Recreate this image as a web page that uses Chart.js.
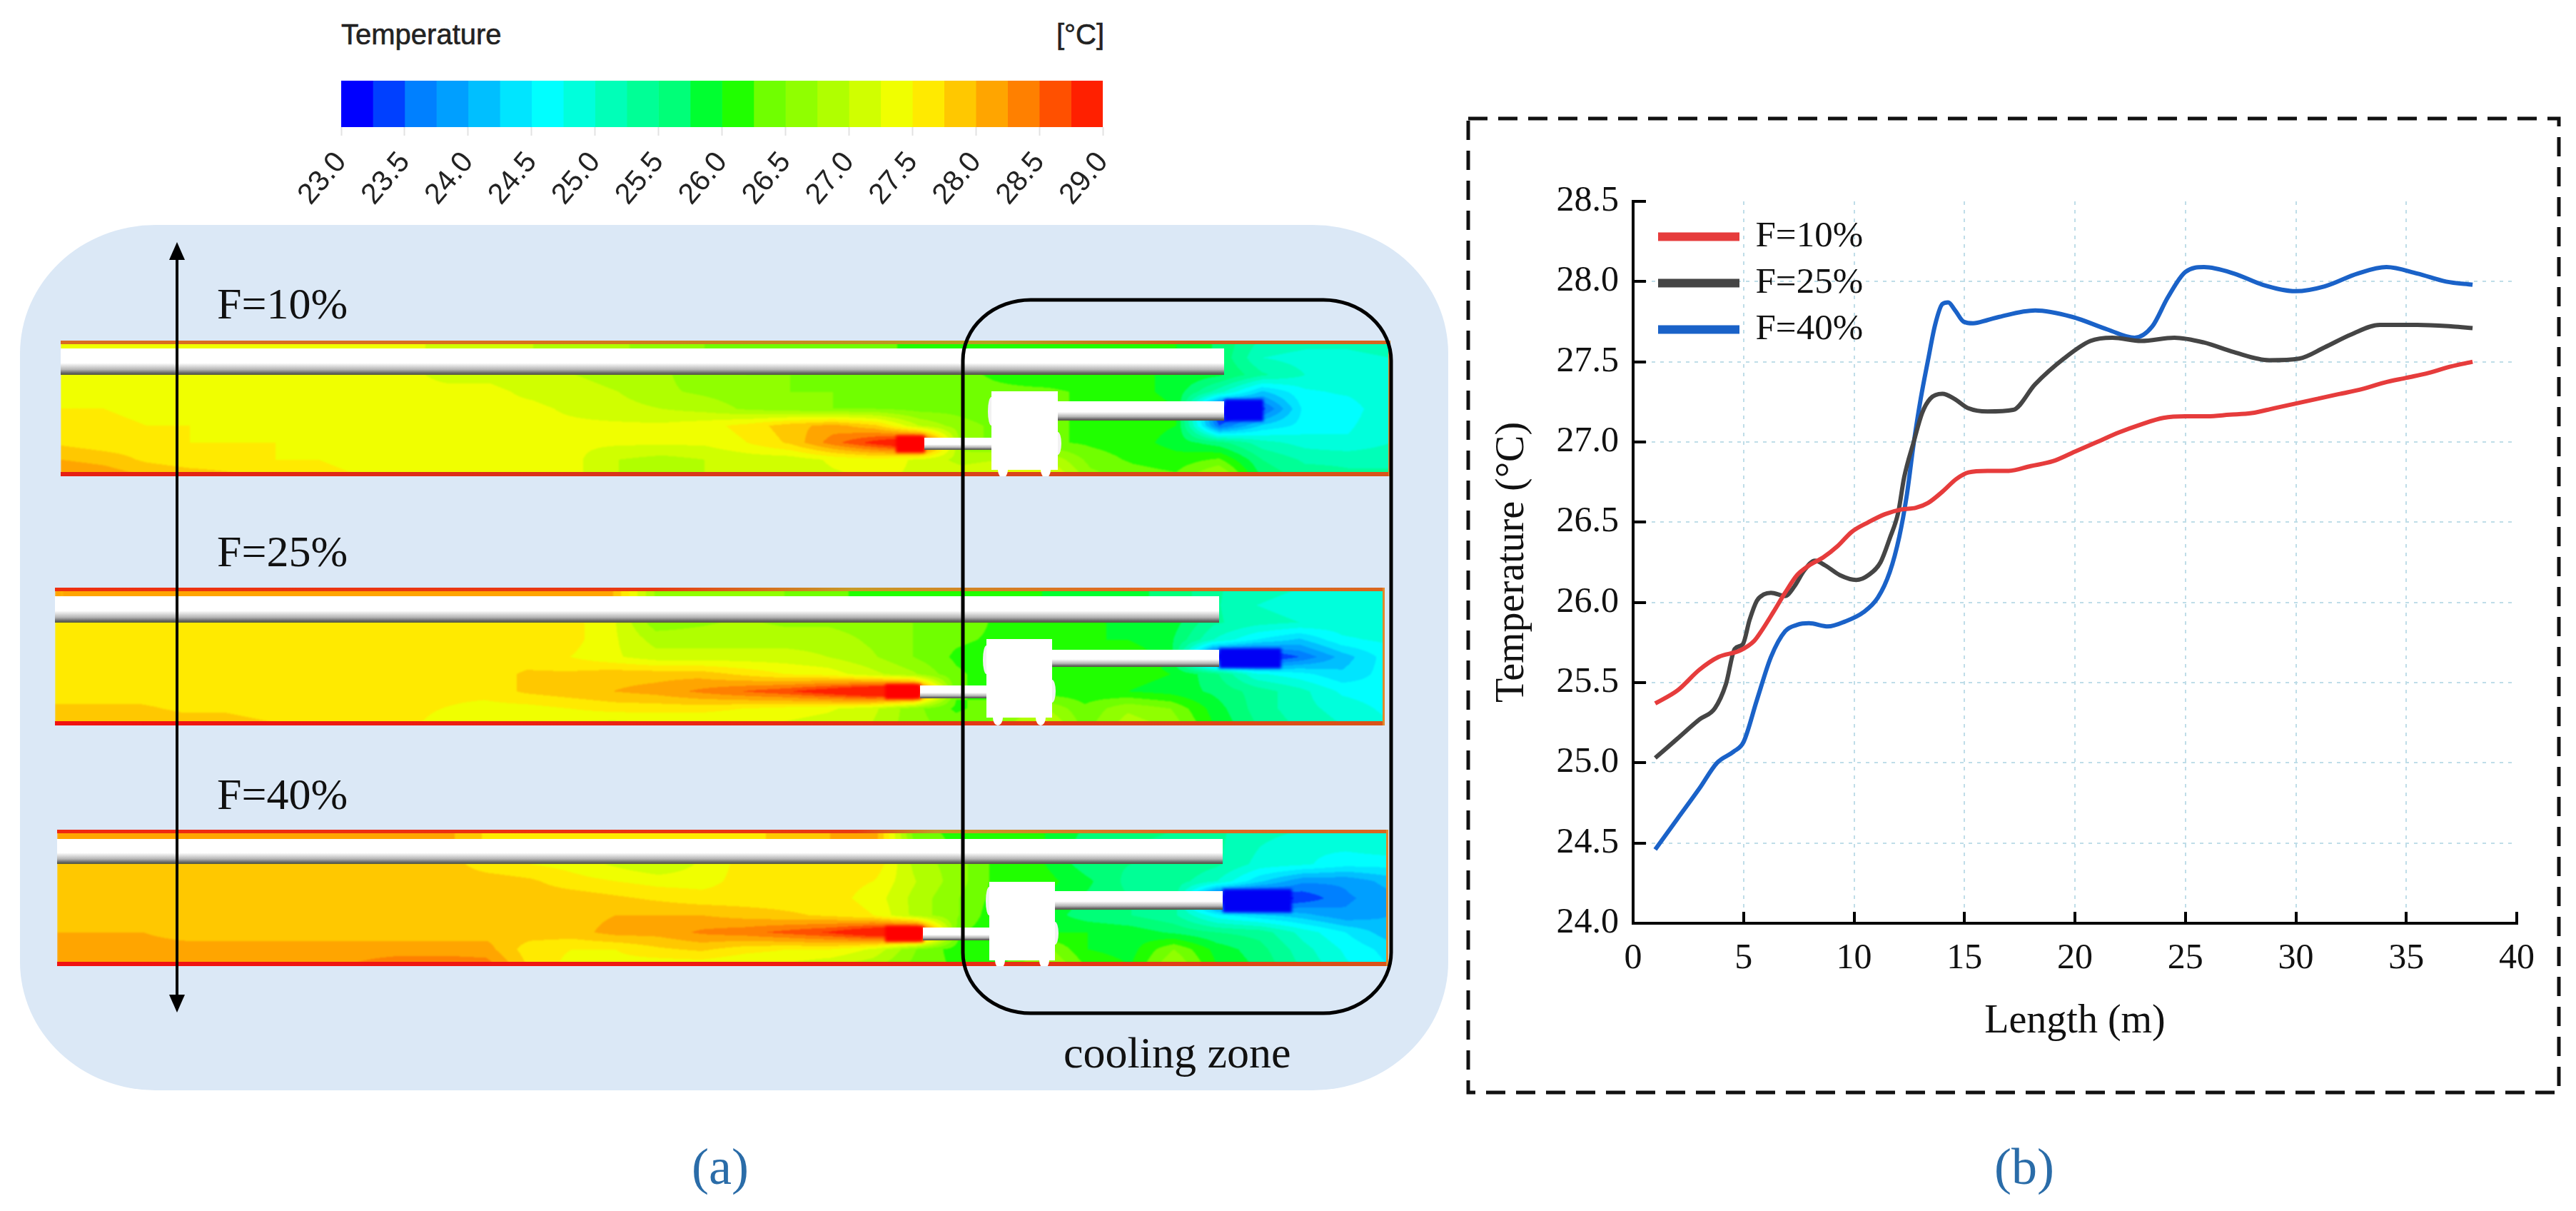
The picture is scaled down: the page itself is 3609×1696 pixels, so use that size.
<!DOCTYPE html>
<html lang="en">
<head>
<meta charset="UTF-8">
<title>Temperature distribution and length profile</title>
<script src="https://cdn.jsdelivr.net/npm/chart.js"></script>
<style>
    html, body { margin: 0; padding: 0; background: #fff; }
    #page { position: relative; width: 3609px; height: 1696px; overflow: hidden; }
    #page canvas, #page svg { position: absolute; }
    .backdrop { position: absolute; left: 28px; top: 315px; width: 2001px; height: 1212px;
                background: #dbe8f6; border-radius: 190px / 180px; }
    .label { position: absolute; font-family: "Liberation Serif", serif; font-size: 62px;
             line-height: 62px; color: #111; white-space: nowrap; }
    .sans { font-family: "Liberation Sans", sans-serif; font-size: 40px; line-height: 40px; color: #222;
            -webkit-text-stroke: 0.6px #222; }
    .caption { font-size: 72px; line-height: 72px; color: #2a6ca8; }
</style>
</head>
<body>
<div id="page">
    <div class="backdrop"></div>
    <div class="label sans" style="left:478px;top:28px">Temperature</div>
    <div class="label sans" style="left:1480px;top:28px;width:65px;text-align:right">[°C]</div>
    <canvas id="colorbar" style="left:400px;top:90px"></canvas>
    <canvas id="field10" style="left:85px;top:477px"></canvas>
    <canvas id="field25" style="left:77px;top:823px"></canvas>
    <canvas id="field40" style="left:80px;top:1162px"></canvas>
    <svg width="3609" height="1696" style="left:0;top:0">
        <rect x="1349" y="420" width="600" height="999" rx="95" ry="85" fill="none" stroke="#000" stroke-width="5"/>
        <line x1="248" y1="360" x2="248" y2="1400" stroke="#000" stroke-width="4"/>
        <polygon points="248,339 237,364 259,364" fill="#000"/>
        <polygon points="248,1418 237,1393 259,1393" fill="#000"/>
        <rect x="2057" y="166" width="1528" height="1364" fill="none" stroke="#111" stroke-width="5" stroke-dasharray="27 15"/>
    </svg>
    <div class="label" style="left:304px;top:394px">F=10%</div>
    <div class="label" style="left:304px;top:741px">F=25%</div>
    <div class="label" style="left:304px;top:1081px">F=40%</div>
    <div class="label" style="left:1490px;top:1443px">cooling zone</div>
    <div class="label caption" style="left:969px;top:1598px">(a)</div>
    <div class="label caption" style="left:2794px;top:1598px">(b)</div>
    <canvas id="profile" style="left:2090px;top:250px"></canvas>
</div>

<script>
// colour legend, 24 bands of 0.25 degC
const bandEdges = [23.0,23.25,23.5,23.75,24.0,24.25,24.5,24.75,25.0,25.25,25.5,25.75,26.0,26.25,26.5,26.75,27.0,27.25,27.5,27.75,28.0,28.25,28.5,28.75,29.0];
const bandColors = ['#0000ff','#0040ff','#0080ff','#009fff','#00bfff','#00e5ff','#00ffff','#00ffdc','#00ffb8','#00ff96','#00ff78','#00ff30','#20ff00','#70ff00','#90ff00','#b0ff00','#d0ff00','#f0ff00','#ffea00','#ffc800','#ffa500','#ff8000','#ff5000','#ff2000'];

// temperature, 9 rows by 32 columns
const fieldF10 = [
    [27.4,27.4,27.4,27.4,27.4,27.4,27.4,27.4,27.3,27.2,27.1,27.0,26.9,26.8,26.6,26.5,26.4,26.4,26.3,26.3,26.2,26.2,26.1,26.1,26.1,26.0,26.0,25.7,25.2,25.1,25.1,25.2],
    [27.4,27.4,27.4,27.4,27.4,27.4,27.4,27.4,27.3,27.2,27.1,27.0,26.9,26.8,26.6,26.5,26.4,26.4,26.3,26.3,26.2,26.2,26.1,26.1,26.1,26.0,26.0,25.7,25.0,24.9,24.9,25.0],
    [27.3,27.3,27.3,27.3,27.3,27.3,27.3,27.3,27.3,27.2,27.2,27.1,27.0,26.9,26.8,26.6,26.5,26.5,26.4,26.4,26.3,26.3,26.2,26.1,26.1,26.0,26.0,25.8,25.3,25.0,25.0,25.0],
    [27.4,27.4,27.4,27.3,27.3,27.3,27.3,27.3,27.3,27.3,27.3,27.2,27.1,27.0,26.8,26.7,26.6,26.5,26.5,26.4,26.4,26.3,26.3,26.3,26.2,26.1,25.9,25.1,24.2,24.7,24.8,25.0],
    [27.5,27.5,27.4,27.4,27.3,27.3,27.3,27.3,27.3,27.3,27.3,27.3,27.2,27.1,27.0,26.9,26.7,26.6,26.5,26.5,26.4,26.4,26.3,26.3,26.2,26.2,26.0,23.0,23.4,24.6,24.6,25.0],
    [27.6,27.6,27.5,27.5,27.4,27.4,27.4,27.3,27.3,27.3,27.3,27.3,27.3,27.3,27.3,27.4,27.6,27.9,28.1,27.8,27.0,26.6,26.4,26.3,26.2,26.1,26.0,23.5,24.3,24.6,24.7,25.0],
    [27.7,27.6,27.6,27.5,27.5,27.5,27.4,27.4,27.4,27.3,27.3,27.3,27.3,27.3,27.3,27.3,27.5,27.8,28.4,28.9,29.4,26.6,26.4,26.3,26.2,26.1,25.9,25.6,25.1,24.9,24.8,25.0],
    [28.0,27.9,27.7,27.6,27.6,27.5,27.5,27.4,27.4,27.4,27.4,27.3,27.3,27.0,26.9,27.0,27.1,27.1,27.3,27.4,27.2,26.9,27.0,27.0,26.4,26.2,26.1,26.3,25.5,25.2,25.2,25.2],
    [28.3,28.2,28.0,27.9,27.8,27.7,27.6,27.5,27.5,27.4,27.4,27.4,27.3,27.0,26.9,27.0,27.0,27.1,27.2,27.3,27.2,27.2,27.4,27.4,26.6,26.4,26.3,26.9,25.7,25.4,25.3,25.3]
];
const fieldF25 = [
    [28.0,28.0,28.0,28.0,28.0,28.0,28.0,28.0,28.0,28.0,28.0,28.0,28.0,28.0,26.7,26.6,26.5,26.5,26.3,26.2,26.1,26.1,26.0,26.0,25.9,25.8,25.7,25.3,25.1,25.0,25.0,25.0],
    [28.0,28.0,28.0,28.0,28.0,28.0,28.0,28.0,28.0,28.0,28.0,28.0,28.0,28.0,26.7,26.6,26.5,26.5,26.3,26.2,26.1,26.1,26.0,26.0,25.9,25.8,25.7,25.3,25.0,24.9,24.9,24.9],
    [27.6,27.6,27.6,27.6,27.6,27.6,27.6,27.6,27.6,27.6,27.6,27.6,27.6,27.3,26.6,26.7,26.8,26.7,26.7,26.6,26.5,26.4,26.2,26.1,26.1,25.9,25.9,25.3,25.1,25.0,24.9,24.9],
    [27.6,27.6,27.6,27.6,27.6,27.6,27.6,27.6,27.6,27.6,27.6,27.6,27.6,27.3,26.9,26.9,26.9,26.9,26.9,26.7,26.5,26.3,26.2,26.1,26.0,26.0,25.8,25.0,24.5,24.2,24.7,24.8],
    [27.6,27.6,27.6,27.6,27.6,27.6,27.6,27.6,27.6,27.6,27.6,27.6,27.5,27.3,27.1,27.1,27.1,27.1,27.0,26.8,26.5,26.2,26.1,26.1,26.3,26.2,25.9,23.0,23.0,23.5,24.1,24.6],
    [27.6,27.6,27.6,27.6,27.6,27.6,27.6,27.6,27.6,27.6,27.6,27.8,27.8,27.9,27.9,27.9,27.7,27.5,27.4,27.1,26.8,26.3,26.1,26.1,26.1,26.1,26.0,25.6,24.8,24.6,24.3,24.6],
    [27.6,27.6,27.6,27.6,27.6,27.6,27.6,27.6,27.6,27.6,27.6,27.8,27.9,28.0,28.1,28.3,28.5,28.7,29.0,29.4,29.5,26.3,26.1,26.1,26.1,26.0,25.9,25.7,25.4,25.1,24.7,24.6],
    [27.8,27.8,27.8,27.7,27.7,27.6,27.6,27.6,27.6,27.5,27.4,27.4,27.5,27.6,27.6,27.6,27.5,27.4,27.3,27.1,26.6,26.2,26.4,26.8,26.3,26.7,26.5,25.9,25.4,25.1,24.9,24.7],
    [28.0,28.0,28.0,27.9,27.9,27.8,27.7,27.7,27.6,27.4,27.3,27.2,27.2,27.1,27.2,27.2,27.2,27.2,27.1,27.0,26.6,26.4,26.6,27.2,26.4,26.9,26.7,26.0,25.5,25.2,25.0,24.8]
];
const fieldF40 = [
    [28.1,28.1,28.1,28.1,28.1,28.1,28.1,28.1,28.1,28.1,27.7,27.7,27.6,27.6,27.6,27.6,27.7,27.8,28.0,28.2,26.3,26.2,26.2,26.0,25.7,25.6,25.5,25.3,25.1,25.0,25.0,25.0],
    [28.1,28.1,28.1,28.1,28.1,28.1,28.1,28.1,28.1,28.1,27.7,27.7,27.6,27.6,27.6,27.6,27.7,27.8,28.0,28.2,26.4,26.2,26.1,26.0,25.6,25.5,25.4,25.3,25.0,24.8,24.8,24.9],
    [27.9,27.9,27.9,27.9,27.9,27.9,27.9,27.9,27.9,27.9,27.6,27.5,27.4,27.2,27.0,27.3,27.6,27.6,27.6,27.7,26.9,26.6,26.1,26.0,25.6,25.5,25.5,25.3,24.9,24.8,24.6,24.6],
    [27.9,27.9,27.9,27.9,27.9,27.9,27.9,27.9,27.9,27.9,27.9,27.8,27.6,27.5,27.4,27.4,27.6,27.6,27.6,27.5,27.0,26.6,26.1,26.1,25.8,25.4,25.4,25.0,24.3,23.8,23.8,24.1],
    [27.9,27.9,27.9,27.9,27.9,27.9,27.9,27.9,27.9,27.9,27.9,27.9,27.9,27.8,27.7,27.6,27.6,27.6,27.6,27.4,26.9,26.5,26.1,26.0,25.7,25.5,25.4,23.0,23.0,23.3,23.7,23.9],
    [27.9,27.9,27.9,27.9,27.9,27.9,27.9,27.9,27.9,27.9,27.9,27.9,27.9,28.0,28.0,28.0,27.9,27.8,27.7,27.5,26.9,26.5,26.0,25.9,25.6,25.5,25.3,24.6,24.3,24.1,23.8,24.0],
    [28.0,28.0,28.0,27.9,27.9,27.9,27.9,27.9,27.9,27.9,27.9,27.9,27.9,28.1,28.1,28.3,28.4,28.6,28.8,29.2,29.5,26.3,26.0,26.0,26.0,25.9,25.7,25.5,25.4,24.9,24.5,24.1],
    [28.1,28.1,28.1,28.1,28.1,28.1,28.1,28.1,28.1,28.1,28.1,27.6,27.5,27.5,27.7,27.8,27.6,27.5,27.5,27.2,26.5,26.1,26.1,26.6,26.0,25.9,26.5,25.9,25.6,25.1,24.7,24.4],
    [28.3,28.3,28.3,28.3,28.3,28.3,28.3,28.3,28.5,28.5,28.4,27.7,27.4,27.4,27.3,27.3,27.2,27.2,27.0,26.8,26.4,26.2,26.2,26.9,26.2,26.0,26.8,26.0,25.7,25.2,24.8,24.5]
];

// line chart, length (m) and temperature (degC)
const seriesNames = ['F=10%', 'F=25%', 'F=40%'];
const lengthF10 = [1,2,3,3.87,4.84,5.48,5.8,6.35,6.88,7.42,7.96,8.6,9.25,9.9,10.65,11.4,12.16,12.8,13.35,14,14.64,15.18,16.04,17,18,19,20,21,22,23,24,25,26,27,28,29,30,31,32,33,34,35,36,37,38];
const tempF10 = [25.37,25.45,25.58,25.66,25.70,25.76,25.82,25.94,26.06,26.17,26.23,26.28,26.35,26.44,26.50,26.55,26.58,26.59,26.62,26.69,26.77,26.81,26.82,26.82,26.85,26.88,26.94,27.0,27.06,27.11,27.15,27.16,27.16,27.17,27.18,27.21,27.24,27.27,27.30,27.33,27.37,27.40,27.43,27.47,27.50];
const lengthF25 = [1,2,3,3.7,4.2,4.6,4.97,5.27,5.6,5.92,6.24,6.88,7.3,7.75,8.23,8.7,9.36,10.1,10.65,11.2,11.62,12,12.27,12.7,13.08,13.45,14,14.53,15.18,16.04,17.2,18.2,19.5,20.7,21.7,23,24.5,25.84,27.2,28.8,30.15,31.3,32.5,33.8,35.5,37.1,38];
const tempF25 = [25.03,25.15,25.27,25.34,25.49,25.71,25.74,25.89,26.01,26.05,26.06,26.04,26.10,26.20,26.26,26.23,26.17,26.14,26.17,26.25,26.40,26.56,26.78,27.0,27.18,27.27,27.30,27.27,27.21,27.19,27.20,27.36,27.52,27.63,27.65,27.63,27.65,27.62,27.56,27.51,27.52,27.59,27.67,27.73,27.73,27.72,27.71];
const lengthF40 = [1,2,3,3.8,4.55,5,5.6,6.24,6.88,7.42,7.96,8.82,9.58,10.44,11.08,11.62,12.05,12.38,12.7,13.02,13.35,13.67,14,14.26,14.58,14.96,15.39,16.04,16.58,18.2,19.87,21.5,22.7,23.5,24.2,25,25.84,27.2,28.5,30,31.3,32.8,34.1,35.5,36.8,38];
const tempF40 = [24.46,24.65,24.84,25.0,25.07,25.13,25.39,25.66,25.82,25.86,25.87,25.85,25.88,25.94,26.03,26.19,26.41,26.66,26.99,27.27,27.51,27.73,27.86,27.87,27.82,27.75,27.74,27.76,27.78,27.82,27.78,27.70,27.65,27.72,27.90,28.06,28.09,28.05,27.98,27.94,27.97,28.05,28.09,28.05,28.0,27.98];

const seriesColors = ['#e63c3c', '#454545', '#1a62c8'];
const serif = 'Liberation Serif';
const gridBlue = '#bfdde8';

Chart.defaults.animation = false;
Chart.defaults.responsive = false;
Chart.defaults.devicePixelRatio = 1;

function sizeCanvas(id, w, h) {
    const c = document.getElementById(id);
    c.width = w;
    c.height = h;
    return c;
}

// colour bar
new Chart(sizeCanvas('colorbar', 1200, 230), {
    type: 'bar',
    data: {
        labels: ['T'],
        datasets: bandColors.map((color, i) => ({
            data: [[bandEdges[i], bandEdges[i + 1]]],
            backgroundColor: color,
            grouped: false,
            barPercentage: 1,
            categoryPercentage: 1
        }))
    },
    options: {
        indexAxis: 'y',
        layout: { padding: { left: 78, right: 55, top: 23, bottom: 0 } },
        plugins: { legend: { display: false }, tooltip: { enabled: false } },
        scales: {
            y: { display: false },
            x: {
                min: 23, max: 29,
                border: { display: false },
                grid: { drawOnChartArea: false, tickLength: 12, tickColor: '#e2e2e2', tickWidth: 2 },
                ticks: {
                    stepSize: 0.5, autoSkip: false, minRotation: 50, maxRotation: 50, padding: 14,
                    color: '#222', font: { family: 'Liberation Sans', size: 41 },
                    callback: v => v.toFixed(1)
                },
                afterFit(scale) { scale.height = 142; }
            }
        }
    }
});

function bandColor(t) {
    let i = 0;
    while (i < bandColors.length - 1 && t >= bandEdges[i + 1]) i++;
    return bandColors[i];
}

function hexToRgb(hex) {
    return [1, 3, 5].map(k => parseInt(hex.substr(k, 2), 16));
}

// contour picture of one grid, placed through the chart's scales
const contourPlugin = {
    id: 'contour',
    beforeDatasetsDraw(chart, args, opts) {
        const { ctx, scales: { x, y }, chartArea: a } = chart;
        const w = Math.round(a.right - a.left), h = Math.round(a.bottom - a.top);
        const off = document.createElement('canvas');
        off.width = w;
        off.height = h;
        const octx = off.getContext('2d');
        const img = octx.createImageData(w, h);
        const rows = opts.grid;
        const cols = [];
        for (let px = 0; px < w; px++) cols.push(x.getValueForPixel(a.left + px));
        for (let py = 0; py < h; py++) {
            const rv = Math.min(Math.max(y.getValueForPixel(a.top + py), 0), rows.length - 1.001);
            const r0 = Math.floor(rv), fr = rv - r0;
            for (let px = 0; px < w; px++) {
                const cv = Math.min(Math.max(cols[px], 0), rows[0].length - 1.001);
                const c0 = Math.floor(cv), fc = cv - c0;
                const top = rows[r0][c0] * (1 - fc) + rows[r0][c0 + 1] * fc;
                const bot = rows[r0 + 1][c0] * (1 - fc) + rows[r0 + 1][c0 + 1] * fc;
                const rgb = hexToRgb(bandColor(top * (1 - fr) + bot * fr));
                const k = (py * w + px) * 4;
                img.data[k] = rgb[0];
                img.data[k + 1] = rgb[1];
                img.data[k + 2] = rgb[2];
                img.data[k + 3] = 255;
            }
        }
        octx.putImageData(img, 0, 0);
        ctx.save();
        ctx.filter = 'blur(1px)';
        ctx.drawImage(off, a.left, a.top);
        ctx.restore();
        drawEquipment(ctx, opts.layout, a);
    }
};

function pipe(ctx, x0, x1, y0, y1) {
    const g = ctx.createLinearGradient(0, y0, 0, y1);
    g.addColorStop(0, '#ffffff');
    g.addColorStop(0.55, '#ffffff');
    g.addColorStop(0.8, '#b5b5b5');
    g.addColorStop(0.93, '#666666');
    g.addColorStop(1, '#55593a');
    ctx.fillStyle = g;
    ctx.fillRect(x0, y0, x1 - x0, y1 - y0);
}

function ellipse(ctx, cx, cy, rx, ry, color) {
    ctx.fillStyle = color;
    ctx.beginPath();
    ctx.ellipse(cx, cy, rx, ry, 0, 0, Math.PI * 2);
    ctx.fill();
}

function drawEquipment(ctx, l, a) {
    ctx.save();
    ctx.translate(-l.x, -l.y);
    const right = l.x + a.right;
    const wallTop = ctx.createLinearGradient(l.x, 0, right, 0);
    l.wallTop.forEach(([s, c]) => wallTop.addColorStop(s, c));
    ctx.fillStyle = wallTop;
    ctx.fillRect(l.x, l.y, right - l.x, 5);
    const wallBottom = ctx.createLinearGradient(l.x, 0, right, 0);
    l.wallBottom.forEach(([s, c]) => wallBottom.addColorStop(s, c));
    ctx.fillStyle = wallBottom;
    ctx.fillRect(l.x, l.y + a.bottom - 6, right - l.x, 6);
    ctx.fillStyle = '#e08a2a';
    ctx.fillRect(right - 3, l.y, 3, a.bottom);
    // nozzle jets, soft edged
    ctx.filter = 'blur(2px)';
    ctx.fillStyle = '#ff0000';
    ctx.fillRect(l.hotJet[0], l.hotJet[2], l.hotJet[1] - l.hotJet[0], l.hotJet[3] - l.hotJet[2]);
    ctx.fillStyle = '#0000f5';
    ctx.fillRect(l.coldJet[0], l.coldJet[2], l.coldJet[1] - l.coldJet[0], l.coldJet[3] - l.coldJet[2]);
    ctx.filter = 'none';
    // ducts and air handler
    pipe(ctx, l.x, l.topPipe[0], l.topPipe[1], l.topPipe[2]);
    pipe(ctx, l.unit[1], l.coldPipe[0], l.coldPipe[1], l.coldPipe[2]);
    pipe(ctx, l.hotPipe[0], l.unit[0], l.hotPipe[1], l.hotPipe[2]);
    ellipse(ctx, l.unit[0], l.coldPipe[1] + 14, 5, 20, '#f2f2f2');
    ellipse(ctx, l.unit[1], l.hotPipe[1] + 8, 5, 16, '#f2f2f2');
    ctx.fillStyle = '#ffffff';
    ctx.fillRect(l.unit[0], l.unit[2], l.unit[1] - l.unit[0], l.unit[3] - l.unit[2]);
    ellipse(ctx, l.wheels[0], l.unit[3], 7, 11, '#ffffff');
    ellipse(ctx, l.wheels[1], l.unit[3], 7, 11, '#ffffff');
    ctx.restore();
}

const fieldLayouts = {
    field10: {
        grid: fieldF10, x: 85, y: 477, w: 1863, h: 190,
        topPipe: [1715, 488, 525], coldPipe: [1715, 562, 589], hotPipe: [1295, 613, 630],
        unit: [1389, 1482, 548, 658], wheels: [1405, 1465],
        hotJet: [1255, 1296, 610, 634], coldJet: [1715, 1770, 559, 590],
        wallTop: [[0, '#d96c22'], [0.35, '#d9701e'], [0.7, '#b8a020'], [0.85, '#d65a1c'], [1, '#d9661e']],
        wallBottom: [[0, '#e61f12'], [0.4, '#d9341a'], [1, '#d9541a']]
    },
    field25: {
        grid: fieldF25, x: 77, y: 823, w: 1863, h: 193,
        topPipe: [1708, 835, 872], coldPipe: [1708, 910, 934], hotPipe: [1289, 960, 978],
        unit: [1382, 1474, 895, 1005], wheels: [1398, 1458],
        hotJet: [1240, 1290, 958, 979], coldJet: [1708, 1795, 908, 936],
        wallTop: [[0, '#ee2f10'], [0.45, '#e83a12'], [0.6, '#c89a26'], [0.8, '#e06a20'], [1, '#d9661e']],
        wallBottom: [[0, '#f01210'], [0.5, '#ea2712'], [1, '#d9541a']]
    },
    field40: {
        grid: fieldF40, x: 80, y: 1162, w: 1865, h: 191,
        topPipe: [1713, 1175, 1210], coldPipe: [1713, 1248, 1274], hotPipe: [1293, 1299, 1317],
        unit: [1386, 1478, 1235, 1345], wheels: [1401, 1463],
        hotJet: [1240, 1294, 1297, 1319], coldJet: [1713, 1810, 1245, 1278],
        wallTop: [[0, '#f0280f'], [0.6, '#e83a12'], [0.66, '#c89a26'], [0.85, '#e06a20'], [1, '#d9661e']],
        wallBottom: [[0, '#f01210'], [0.55, '#ee1c10'], [1, '#d9541a']]
    }
};

Object.keys(fieldLayouts).forEach(id => {
    const l = fieldLayouts[id];
    new Chart(sizeCanvas(id, l.w, l.h), {
        type: 'scatter',
        data: { datasets: [{ data: [] }] },
        plugins: [contourPlugin],
        options: {
            layout: { padding: 0 },
            plugins: { legend: { display: false }, tooltip: { enabled: false }, contour: { grid: l.grid, layout: l } },
            scales: {
                x: { display: false, min: 0, max: 31 },
                y: { display: false, min: 0, max: 8, reverse: true }
            }
        }
    });
});

// the legend sits inside the plot, a little off the axis
const legendNudge = {
    id: 'legendNudge',
    afterLayout(chart) {
        chart.legend.left = chart.chartArea.left + 24;
        chart.legend.top = chart.chartArea.top + 10;
    }
};

const lengthSeries = [lengthF10, lengthF25, lengthF40];
const tempSeries = [tempF10, tempF25, tempF40];

new Chart(sizeCanvas('profile', 1490, 1260), {
    type: 'line',
    data: {
        datasets: seriesNames.map((name, i) => ({
            label: name,
            data: lengthSeries[i].map((x, k) => ({ x: x, y: tempSeries[i][k] })),
            borderColor: seriesColors[i],
            backgroundColor: seriesColors[i],
            borderWidth: 6,
            pointRadius: 0,
            cubicInterpolationMode: 'monotone'
        }))
    },
    plugins: [legendNudge],
    options: {
        layout: { padding: { left: 0, right: 54, top: 32, bottom: 0 } },
        plugins: {
            tooltip: { enabled: false },
            legend: {
                position: 'chartArea',
                align: 'start',
                labels: {
                    boxWidth: 108, boxHeight: 6, padding: 14, color: '#111',
                    font: { family: serif, size: 51 }
                }
            }
        },
        scales: {
            x: {
                type: 'linear', min: 0, max: 40,
                border: { color: '#000', width: 4, dash: [5, 7] },
                grid: {
                    color: c => (c.tick.value > 0 && c.tick.value < 40) ? gridBlue : 'transparent',
                    lineWidth: 2, tickLength: -16, tickColor: '#000', tickWidth: 4
                },
                ticks: { stepSize: 5, padding: 36, color: '#111', font: { family: serif, size: 50 } },
                title: { display: true, text: 'Length (m)', color: '#111', font: { family: serif, size: 56 }, padding: { top: 0, bottom: 45 } },
                afterFit(scale) {
                    scale.height = 217;
                    scale.paddingLeft = 0;
                    scale.paddingRight = 0;
                }
            },
            y: {
                min: 24, max: 28.5,
                border: { color: '#000', width: 4, dash: [5, 7] },
                grid: {
                    color: c => (c.tick.value > 24 && c.tick.value < 28.5) ? gridBlue : 'transparent',
                    lineWidth: 2, tickLength: -18, tickColor: '#000', tickWidth: 4
                },
                ticks: {
                    stepSize: 0.5, padding: 38, color: '#111', font: { family: serif, size: 50 },
                    callback: v => v.toFixed(1)
                },
                title: { display: true, text: 'Temperature (°C)', color: '#111', font: { family: serif, size: 56 }, padding: { top: -4, bottom: 8 } },
                afterFit(scale) {
                    scale.width = 198;
                    scale.paddingTop = 0;
                    scale.paddingBottom = 0;
                }
            }
        }
    }
});
</script>
</body>
</html>
